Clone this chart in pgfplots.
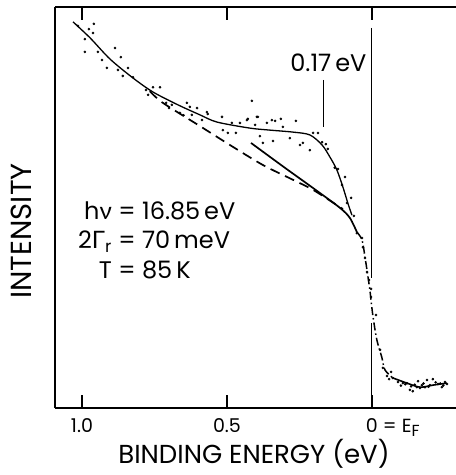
\documentclass[border=0pt]{standalone}
\usepackage{pgfplots}
\pgfplotsset{compat=1.18}
\usepackage{fontspec}
\setmainfont{Poppins}
\newfontfamily\greekfont{Lato}
\begin{document}
\begin{tikzpicture}[x=1pt,y=1pt]
\begin{axis}[
  at={(0,0)}, anchor=south west,
  scale only axis, width=401pt, height=401pt,
  x dir=reverse,
  xmin=-0.290, xmax=1.093, ymin=0, ymax=100,
  axis x line*=box, axis y line*=left,
  axis line style={-, line width=1.3pt},
  xtick={1.0,0.5,0},
  xticklabels={1.0,0.5,{0\rlap{ = E\raisebox{-0.35ex}{\fontsize{16}{16}\selectfont F}}}},
  ytick=\empty,
  tick align=inside, major tick length=13pt,
  tick style={line width=1.2pt, black},
  xticklabel style={font=\fontsize{19}{19}\selectfont, yshift=-7pt},
  /pgf/number format/assume math mode=true,
  clip=false,
]
% measured data points
\addplot[only marks, mark=*, mark size=1.1pt, black] coordinates {
(1.014,95.3) (0.976,94.5) (0.959,95.8) (0.990,92.0) (0.962,93.5)
(0.990,88.8) (0.945,88.8) (0.886,89.8) (0.866,87.5) (0.931,86.8)
(0.914,84.8) (0.876,84.3) (0.841,84.8) (0.859,82.8) (0.824,82.5)
(0.779,79.3) (0.772,78.1) (0.731,80.0) (0.755,80.0) (0.710,76.1)
(0.638,76.1) (0.603,74.8) (0.621,73.1) (0.662,73.6) (0.566,73.3)
(0.628,75.1) (0.569,73.8) (0.586,71.8) (0.517,72.6) (0.514,69.3)
(0.497,68.6) (0.483,71.1) (0.469,68.6) (0.455,71.1) (0.431,71.8)
(0.414,76.6) (0.397,72.6) (0.403,70.6) (0.386,67.8) (0.362,71.1)
(0.345,71.8) (0.334,71.6) (0.314,72.1) (0.307,70.1) (0.262,71.6)
(0.376,66.1) (0.341,66.6) (0.283,67.3) (0.248,65.6) (0.238,66.1)
(0.214,64.3) (0.203,68.6) (0.186,68.6) (0.172,66.3) (0.159,65.8)
(0.152,64.6) (0.128,59.9) (0.117,59.6) (0.093,57.6) (0.103,55.6)
(0.072,52.4) (0.086,51.1) (0.062,47.9) (0.052,43.6) (0.034,42.4)
(0.031,40.1) (0.024,37.4) (0.017,33.9) (0.010,31.9) (0.003,29.7)
(0.003,27.7) (-0.014,23.2) (-0.028,14.5) (-0.038,10.0) (-0.066,9.0)
(-0.052,8.0) (-0.059,7.2) (-0.072,7.5) (-0.090,6.5) (-0.107,6.2)
(-0.121,6.2) (-0.131,4.5) (-0.141,4.2) (-0.159,6.7) (-0.172,5.7)
(-0.183,5.2) (-0.190,7.0) (-0.200,5.7) (-0.210,7.2) (-0.228,6.0)
(-0.241,5.2) (-0.252,6.5) (-0.259,6.0) (-0.155,5.2) (-0.166,5.0)
(0.428,72.1) (0.393,72.6) (0.700,74.8) (0.690,75.6) (0.650,73.0)
(-0.100,5.6) (-0.115,5.9) (-0.135,5.4) (-0.148,5.8) (-0.178,6.1)
(-0.195,5.3) (-0.220,6.4) (-0.236,6.1) (-0.246,5.6)
};
% upper fitted curve
\addplot[smooth, line width=1.3pt, black] coordinates {
(1.031,96.3) (0.972,92.3) (0.903,87.0) (0.824,82.3) (0.755,78.8)
(0.669,75.6) (0.593,73.1) (0.534,71.3) (0.421,69.8) (0.352,69.3)
(0.272,68.8) (0.214,68.1) (0.172,65.6) (0.145,62.6) (0.121,59.4)
(0.100,55.1) (0.083,51.1) (0.069,48.1)
};
% dashed background
\addplot[smooth, line width=1.7pt, black, dash pattern=on 10pt off 6pt] coordinates {
(0.766,79.0) (0.721,76.1) (0.593,70.3) (0.490,65.6) (0.376,60.6)
(0.272,56.9) (0.203,54.4) (0.121,50.6) (0.100,49.6)
};
% lower solid line
\addplot[smooth, line width=1.7pt, black] coordinates {
(0.417,66.1) (0.300,59.9) (0.200,54.7) (0.110,49.9) (0.076,47.4) (0.052,43.9)
};
% Fermi edge
\addplot[smooth, line width=1.5pt, black, dash pattern=on 8pt off 3pt on 1.5pt off 3pt] coordinates {
(0.052,43.9) (0.034,41.9) (0.024,37.7) (0.017,34.4) (0.007,29.4)
(-0.003,23.2) (-0.017,17.0) (-0.034,12.7) (-0.045,9.5) (-0.072,7.5)
};
\addplot[smooth, line width=1.6pt, black] coordinates {
(-0.072,7.5) (-0.121,6.2) (-0.166,5.2) (-0.210,5.7) (-0.259,6.2)
};
% E_F line
\addplot[line width=0.9pt, black] coordinates {(0,94.8) (0,32.4)};
\addplot[line width=0.9pt, black] coordinates {(0,21.2) (0,0)};
% 0.17 eV marker
\addplot[line width=1pt, black] coordinates {(0.166,81.8) (0.166,70.1)};
\node[font=\fontsize{24}{24}\selectfont, inner sep=0pt] at (axis cs:0.150,86.0) {0.17\,eV};
\end{axis}
\node[font=\fontsize{24}{30}\selectfont, anchor=west, inner sep=0pt] at (23,165) {%
\begin{tabular}{@{}r@{ = }l@{}}
h{\greekfont ν} & 16.85\,eV\\
2{\greekfont Γ}\textsubscript{r} & 70\,meV\\
T & 85\,K
\end{tabular}};
\node[font=\fontsize{29}{29}\selectfont, rotate=90, inner sep=0pt] at (-34,177) {INTENSITY};
\node[font=\fontsize{26}{26}\selectfont, inner sep=0pt] at (199,-46) {BINDING ENERGY (eV)};
\pgfresetboundingbox
\useasboundingbox (-55,-67) rectangle (401,408);
\end{tikzpicture}
\end{document}
